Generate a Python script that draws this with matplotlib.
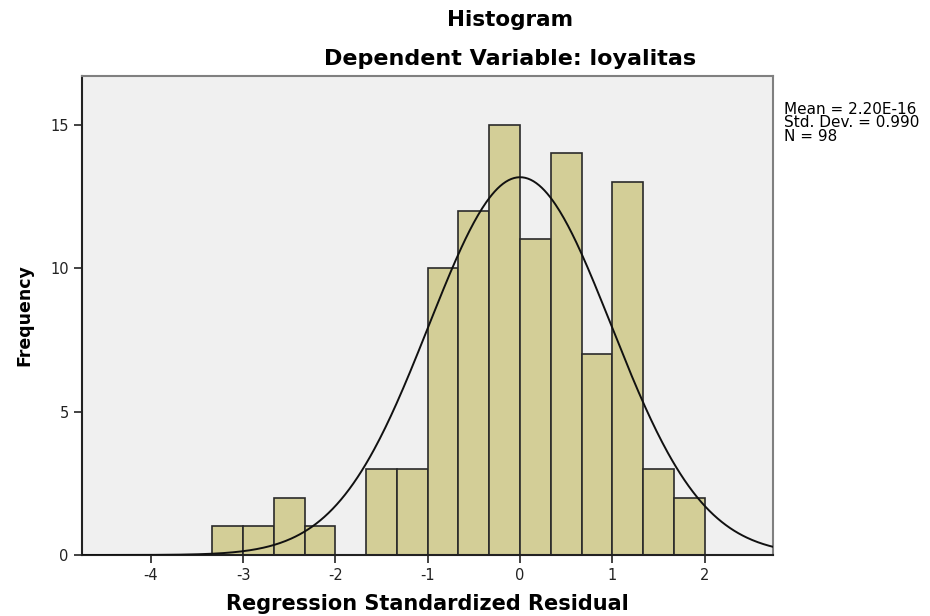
import numpy as np
import matplotlib
matplotlib.use("Agg")
import matplotlib.pyplot as plt

plt.rcParams['font.family'] = ['DejaVu Sans']

bin_edges = [-3.333, -3.0, -2.667, -2.333, -2.0, -1.667, -1.333, -1.0, -0.667,
             -0.333, 0.0, 0.333, 0.667, 1.0, 1.333, 1.667, 2.0]
counts = [1, 1, 2, 1, 0, 3, 3, 10, 12, 15, 11, 14, 7, 13, 3, 2]
mean = 2.20e-16
std = 0.990
n = 98
xticks = [-4, -3, -2, -1, 0, 1, 2]
yticks = [0, 5, 10, 15]

fig = plt.figure(figsize=(9.3, 6.16), dpi=100)
ax = fig.add_axes([0.0882, 0.099, 0.743, 0.7776])
ax.set_facecolor('#F0F0F0')

edges = np.array(bin_edges)
widths = np.diff(edges)
ax.bar(edges[:-1], counts, width=widths, align='edge', color='#D3CE97',
       edgecolor='#2a2a2a', linewidth=1.2, zorder=2)

bw = 1.0 / 3.0
xs = np.linspace(-4.745, 2.74, 500)
ys = n * bw / (std * np.sqrt(2 * np.pi)) * np.exp(-0.5 * ((xs - mean) / std) ** 2)
ax.plot(xs, ys, color='#111111', linewidth=1.4, zorder=3)

ax.set_xlim(-4.745, 2.74)
ax.set_ylim(0, 16.69)
ax.set_xticks(xticks)
ax.set_xticklabels([str(t) for t in xticks])
ax.set_yticks(yticks)
ax.set_yticklabels([str(t) for t in yticks])
ax.tick_params(axis='both', direction='out', length=6, width=1.2, labelsize=10.5, colors='#222222')

for s in ['left', 'bottom']:
    ax.spines[s].set_color('#222222')
    ax.spines[s].set_linewidth(1.5)
for s in ['top', 'right']:
    ax.spines[s].set_color('#808080')
    ax.spines[s].set_linewidth(1.5)

ax.set_xlabel('Regression Standardized Residual', fontsize=15, fontweight='bold', labelpad=8)
ax.set_ylabel('Frequency', fontsize=12.5, fontweight='bold', labelpad=12)

fig.text(0.548, 0.967, 'Histogram', ha='center', va='center', fontsize=15.5, fontweight='bold')
fig.text(0.548, 0.905, 'Dependent Variable: loyalitas', ha='center', va='center', fontsize=16, fontweight='bold')

fig.text(0.843, 0.834, 'Mean = 2.20E-16\nStd. Dev. = 0.990\nN = 98', ha='left', va='top',
         fontsize=11, linespacing=0.85)

fig.savefig('out.png', dpi=100)
